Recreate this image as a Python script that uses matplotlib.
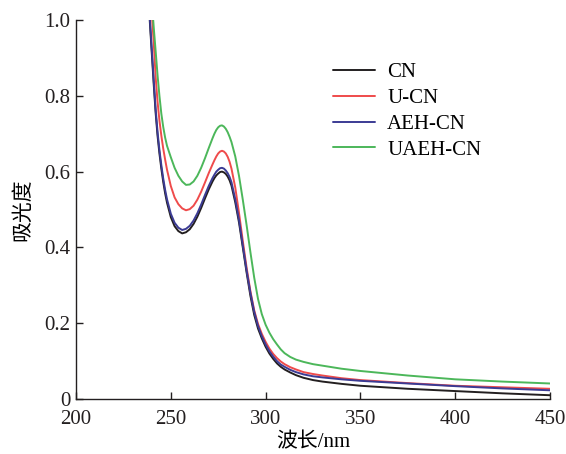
import matplotlib
matplotlib.use('Agg')
import matplotlib.pyplot as plt

plt.rcParams['font.family'] = ['Liberation Serif', 'Noto Sans CJK SC']

# UV-vis absorbance spectra of the four samples
wavelength = [236, 238, 239, 240, 241, 242, 243, 244, 245, 246,
              247, 248, 250, 252, 254, 256, 258, 260, 262, 264,
              266, 268, 270, 272, 273, 274, 275, 276, 277, 278,
              279, 280, 281, 282, 284, 286, 288, 290, 292, 294,
              296, 298, 300, 302, 304, 306, 308, 310, 313, 316,
              320, 325, 330, 340, 350, 375, 400, 425, 450]

cn = [1.26, 1.08, 0.99, 0.91, 0.83, 0.755, 0.695, 0.648, 0.608, 0.573,
      0.543, 0.518, 0.480, 0.456, 0.443, 0.437, 0.440, 0.448, 0.462, 0.481,
      0.504, 0.529, 0.553, 0.574, 0.583, 0.590, 0.595, 0.599, 0.600, 0.598,
      0.594, 0.587, 0.577, 0.563, 0.519, 0.465, 0.399, 0.333, 0.272, 0.222,
      0.186, 0.160, 0.138, 0.120, 0.106, 0.094, 0.085, 0.078, 0.070, 0.063,
      0.056, 0.050, 0.046, 0.040, 0.035, 0.027, 0.021, 0.015, 0.010]

u_cn = [1.45, 1.18, 1.09, 1.015, 0.94, 0.85, 0.785, 0.735, 0.695, 0.661,
        0.632, 0.605, 0.562, 0.532, 0.514, 0.503, 0.498, 0.501, 0.510, 0.526,
        0.547, 0.571, 0.596, 0.619, 0.630, 0.640, 0.648, 0.653, 0.655, 0.653,
        0.648, 0.639, 0.626, 0.608, 0.558, 0.490, 0.416, 0.346, 0.284, 0.234,
        0.198, 0.172, 0.151, 0.133, 0.119, 0.108, 0.099, 0.092, 0.084, 0.078,
        0.071, 0.066, 0.062, 0.055, 0.050, 0.042, 0.035, 0.031, 0.027]

aeh_cn = [1.27, 1.09, 1.00, 0.92, 0.84, 0.765, 0.705, 0.657, 0.617, 0.582,
          0.552, 0.527, 0.489, 0.465, 0.452, 0.446, 0.449, 0.457, 0.471, 0.490,
          0.513, 0.538, 0.562, 0.583, 0.592, 0.600, 0.605, 0.609, 0.610, 0.608,
          0.603, 0.596, 0.586, 0.572, 0.527, 0.472, 0.405, 0.339, 0.280, 0.230,
          0.193, 0.166, 0.144, 0.126, 0.112, 0.100, 0.091, 0.085, 0.077, 0.071,
          0.065, 0.060, 0.057, 0.052, 0.048, 0.041, 0.034, 0.028, 0.023]

uaeh_cn = [1.50, 1.22, 1.13, 1.05, 0.98, 0.918, 0.855, 0.800, 0.753, 0.718,
           0.690, 0.668, 0.638, 0.610, 0.589, 0.574, 0.565, 0.566, 0.574, 0.589,
           0.610, 0.635, 0.662, 0.688, 0.700, 0.710, 0.717, 0.721, 0.722, 0.719,
           0.713, 0.704, 0.692, 0.678, 0.640, 0.588, 0.525, 0.458, 0.387, 0.320,
           0.264, 0.224, 0.196, 0.175, 0.158, 0.144, 0.131, 0.121, 0.111, 0.104,
           0.098, 0.092, 0.088, 0.080, 0.074, 0.062, 0.052, 0.046, 0.041]

labels = ['CN', 'U-CN', 'AEH-CN', 'UAEH-CN']
colors = ['#231f20', '#ef4b4b', '#3b3b94', '#4cb75a']

fig = plt.figure(figsize=(5.66, 4.54), dpi=100)
ax = fig.add_axes([0.1343, 0.1211, 0.8374, 0.8348])

for y, lab, c in zip([cn, u_cn, aeh_cn, uaeh_cn], labels, colors):
    ax.plot(wavelength, y, color=c, lw=1.4, label=lab,
            solid_joinstyle='round', solid_capstyle='round')

ax.set_xlim(200, 450)
ax.set_ylim(0, 1.0)
ax.set_xticks([200, 250, 300, 350, 400, 450])
ax.set_yticks([0, 0.2, 0.4, 0.6, 0.8, 1.0])
ax.set_yticklabels(['0', '0.2', '0.4', '0.6', '0.8', '1.0'])

ax.spines['top'].set_visible(False)
ax.spines['right'].set_visible(False)
for s in ['left', 'bottom']:
    ax.spines[s].set_linewidth(1.0)
    ax.spines[s].set_color('#231f20')
ax.tick_params(axis='both', direction='in', length=5, width=1.0,
               colors='#231f20', labelsize=15)
ax.tick_params(axis='x', pad=8)
ax.tick_params(axis='y', pad=4)

ax.set_xlabel('波长/nm', fontsize=15, labelpad=3)
ax.set_ylabel('吸光度', fontsize=15, labelpad=8)

ax.legend(loc='upper left', bbox_to_anchor=(0.52, 0.915), frameon=False,
          fontsize=15, handlelength=2.0, handletextpad=0.6,
          labelspacing=0.3, borderpad=0)

fig.savefig('out.png', dpi=100)
